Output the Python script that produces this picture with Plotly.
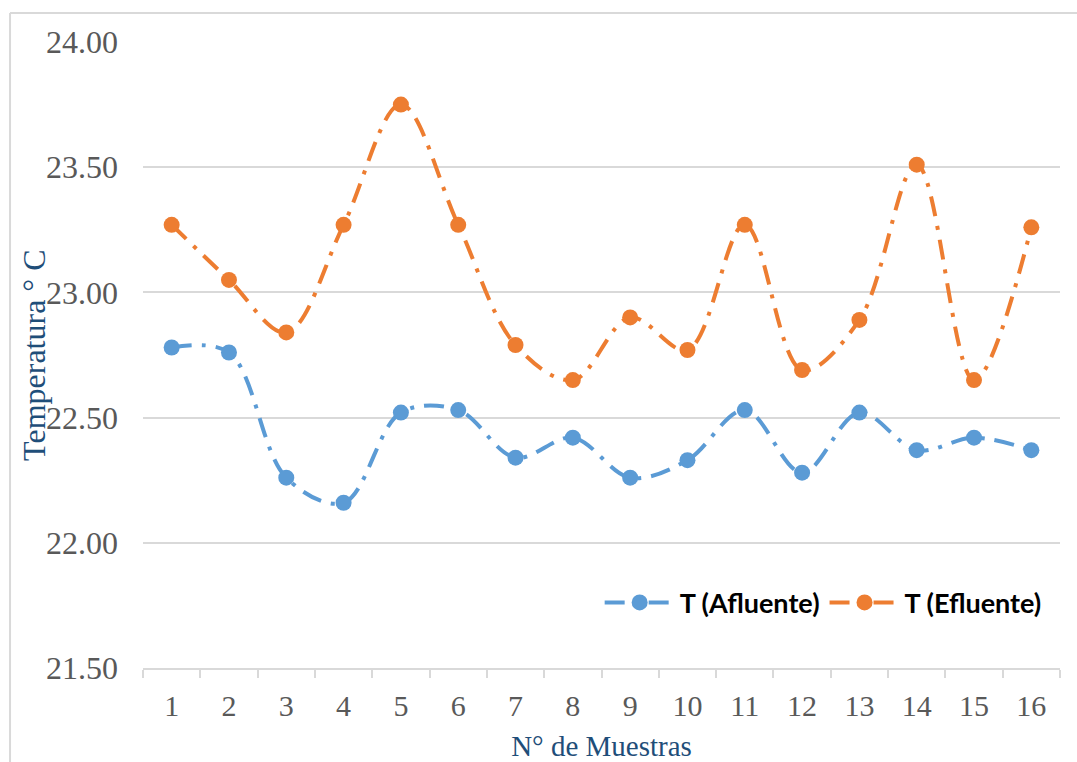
import plotly.graph_objects as go

# Sample numbers (category axis)
muestras = [str(i) for i in range(1, 17)]

# Temperature readings (°C)
t_afluente = [22.78, 22.76, 22.26, 22.16, 22.52, 22.53, 22.34, 22.42,
              22.26, 22.33, 22.53, 22.28, 22.52, 22.37, 22.42, 22.37]
t_efluente = [23.27, 23.05, 22.84, 23.27, 23.75, 23.27, 22.79, 22.65,
              22.90, 22.77, 23.27, 22.69, 22.89, 23.51, 22.65, 23.26]

y_ticks = [21.5, 22.0, 22.5, 23.0, 23.5, 24.0]
y_tick_text = [f"{v:.2f}" for v in y_ticks]

BLUE = "#5B9BD5"
ORANGE = "#ED7D31"
DASH = "20px,10px,4px,10px"

fig = go.Figure()
fig.add_trace(go.Scatter(
    x=muestras, y=t_afluente, name="T (Afluente)",
    mode="lines+markers",
    line=dict(color=BLUE, width=4, dash=DASH, shape="spline", smoothing=1),
    marker=dict(color=BLUE, size=16),
))
fig.add_trace(go.Scatter(
    x=muestras, y=t_efluente, name="T (Efluente)",
    mode="lines+markers",
    line=dict(color=ORANGE, width=4, dash=DASH, shape="spline", smoothing=1),
    marker=dict(color=ORANGE, size=16),
))

serif = "Liberation Serif, Times New Roman, serif"
TITLE_BLUE = "#1F4E79"

fig.update_layout(
    width=1077, height=762,
    margin=dict(l=143, r=17, t=42, b=94),
    paper_bgcolor="white", plot_bgcolor="white",
    showlegend=True,
    legend=dict(
        orientation="h", x=0.498, xanchor="left", y=0.104, yanchor="middle",
        font=dict(family="Lato, Open Sans, sans-serif", size=27, color="black",
                  weight="bold"),
        itemwidth=70, bgcolor="rgba(0,0,0,0)",
    ),
    xaxis=dict(
        type="category", range=[-0.5, 15.5], automargin=False,
        showgrid=False, showline=True, linecolor="#D9D9D9", linewidth=2,
        ticks="outside", tickson="boundaries", ticklen=8, tickcolor="#D9D9D9",
        tickwidth=2, ticklabelstandoff=10,
        tickfont=dict(family=serif, size=30, color="#595959"),
        title=dict(text="N° de Muestras", standoff=16,
                   font=dict(family=serif, size=29, color=TITLE_BLUE)),
        zeroline=False,
    ),
    yaxis=dict(
        range=[21.5, 24.0], tickvals=y_ticks, ticktext=y_tick_text,
        automargin=False,
        showgrid=True, gridcolor="#D9D9D9", gridwidth=2,
        showline=False, zeroline=False, ticks="",
        ticklabelstandoff=24,
        tickfont=dict(family=serif, size=32, color="#595959"),
    ),
)

# Vertical axis title, placed close to the tick labels
fig.add_annotation(
    text="Temperatura ° C", textangle=-90, showarrow=False,
    xref="paper", yref="paper", x=-0.119, y=0.5,
    xanchor="center", yanchor="middle",
    font=dict(family=serif, size=32, color=TITLE_BLUE),
)

# Light outer chart frame (left and top edges)
fig.add_shape(type="line", xref="paper", yref="paper",
              x0=-0.145, x1=-0.145, y0=-0.2, y1=1.0463,
              line=dict(color="#D9D9D9", width=2))
fig.add_shape(type="line", xref="paper", yref="paper",
              x0=-0.145, x1=1.03, y0=1.0463, y1=1.0463,
              line=dict(color="#D9D9D9", width=2))

fig.write_html("out.html")
